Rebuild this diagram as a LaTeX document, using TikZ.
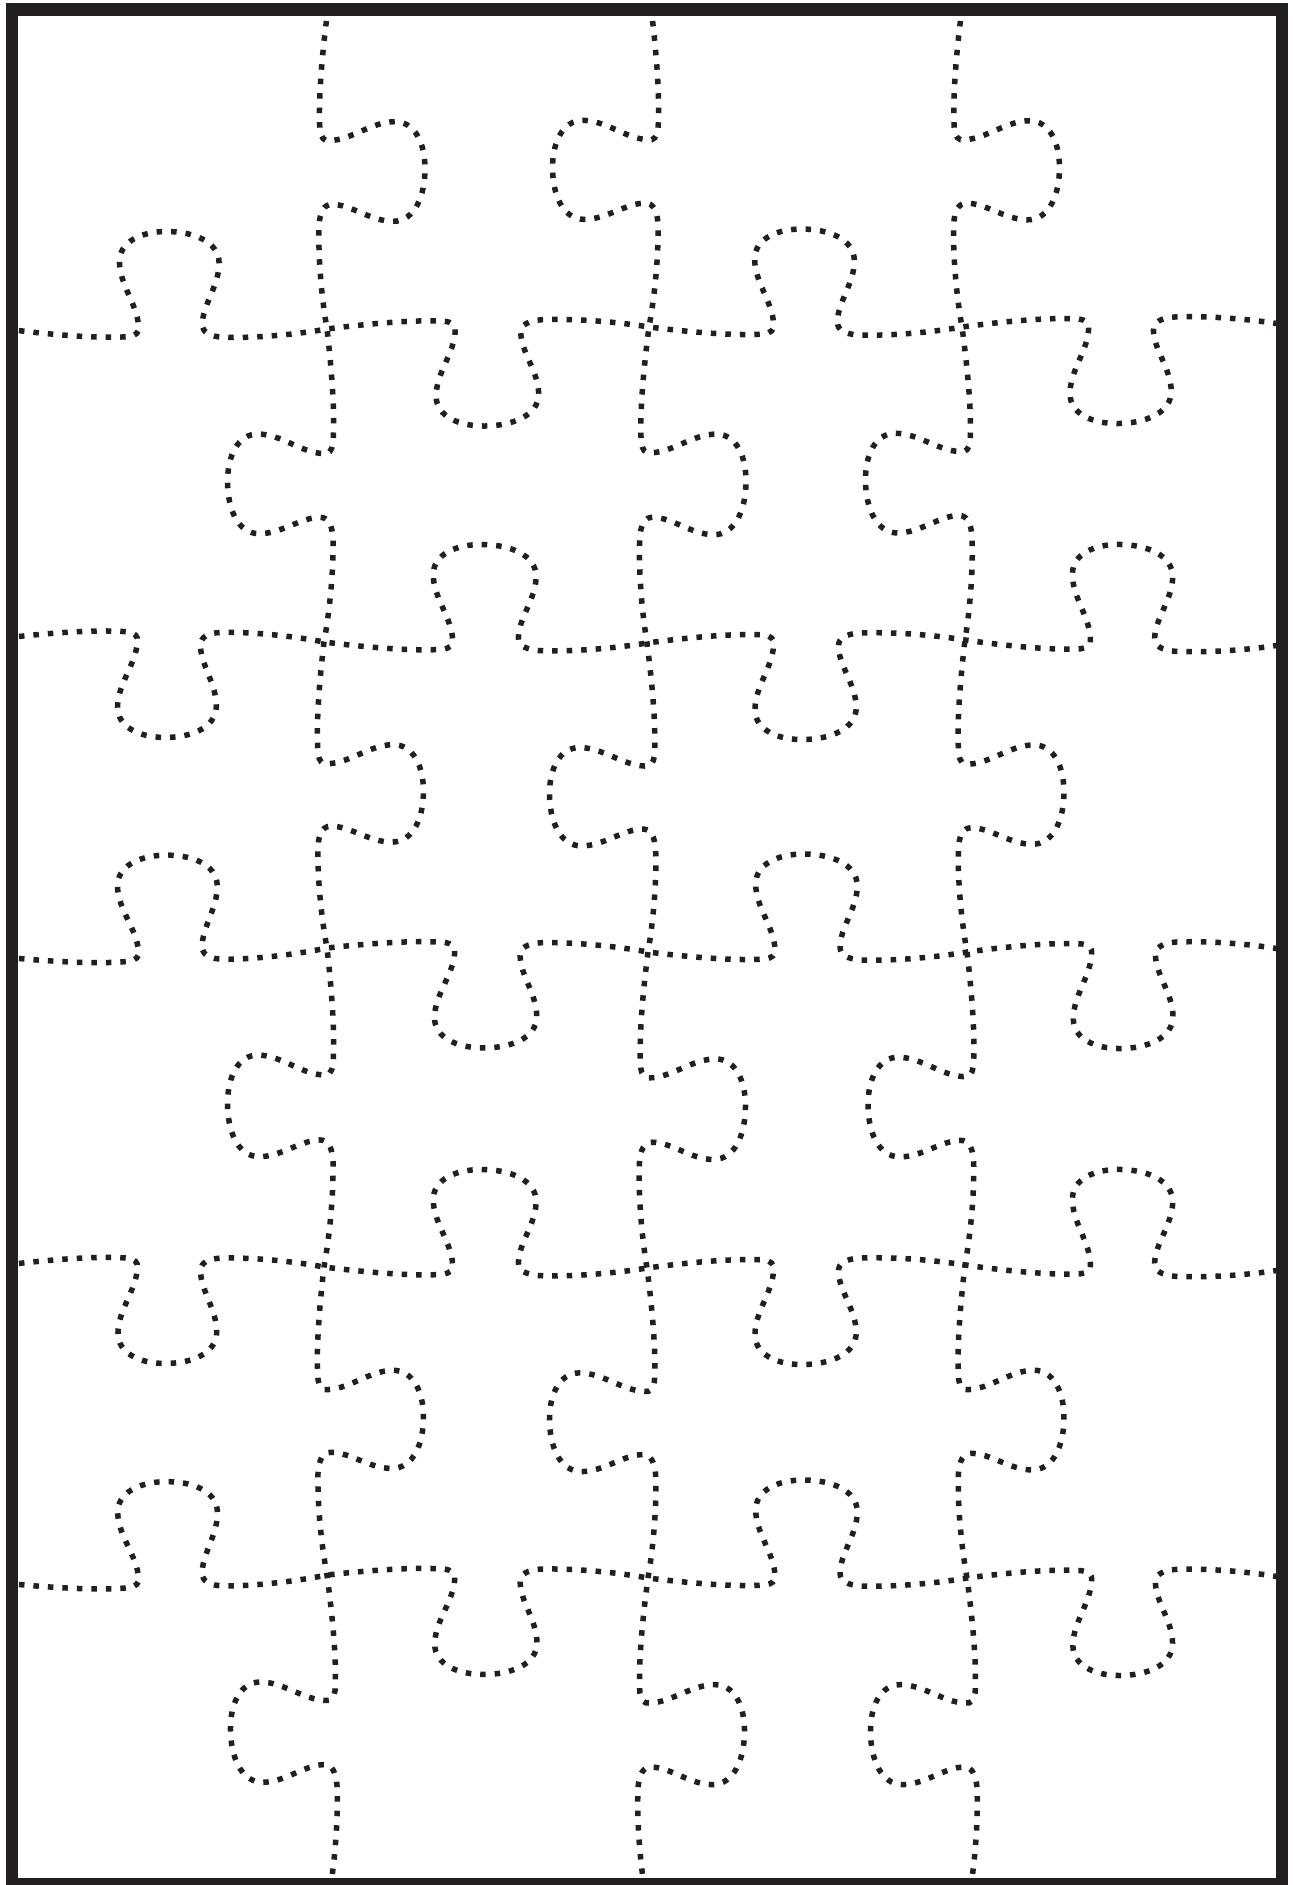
\documentclass[tikz,border=0pt]{standalone}
\definecolor{pzink}{HTML}{231F20}
\newcommand{\pzTab}{.. controls (40,-5) and (85,-9) .. (115,-7) .. controls (122,-6) and (126,-3) .. (125,3) .. controls (124,25) and (106,45) .. (106,68) .. controls (106,88) and (128,98) .. (153,98) .. controls (180,98) and (206,88) .. (206,66) .. controls (206,44) and (189,24) .. (189,5) .. controls (189,-3) and (196,-7) .. (210,-8) .. controls (245,-9) and (285,-5) .. (314,0)}
\tikzset{
  puz/.style={draw=pzink, line width=5.5pt, line cap=butt, dash pattern=on 5.5pt off 9pt, dash phase=9.5pt},
  pseg/.style n args={5}{shift={(#1,-#2)}, rotate={atan2((#2)-(#4),(#3)-(#1))}, xscale={veclen((#3)-(#1),(#4)-(#2))/314}, yscale=#5},
  frame/.style={draw=pzink, line width=12.5pt}
}
\begin{document}
\begin{tikzpicture}[x=1pt,y=1pt]
\useasboundingbox (0,0) rectangle (1293,-1885);
\fill[white] (0,0) rectangle (1293,-1885);
% horizontal cut lines
\draw[puz] {[pseg={14}{330}{327}{329}{1}] (0,0) \pzTab} {[pseg={327}{329}{649}{327}{-1}] \pzTab} {[pseg={649}{327}{962}{327}{1}] \pzTab} {[pseg={962}{327}{1280}{324}{-1}] \pzTab};
\draw[puz] {[pseg={14}{637}{324}{642}{-1}] (0,0) \pzTab} {[pseg={324}{642}{647}{643}{1}] \pzTab} {[pseg={647}{643}{965}{640}{-1}] \pzTab} {[pseg={965}{640}{1280}{645}{1}] \pzTab};
\draw[puz] {[pseg={14}{958}{327}{948}{1}] (0,0) \pzTab} {[pseg={327}{948}{648}{952}{-1}] \pzTab} {[pseg={648}{952}{967}{952}{1}] \pzTab} {[pseg={967}{952}{1280}{949}{-1}] \pzTab};
\draw[puz] {[pseg={14}{1264}{324}{1267}{-1}] (0,0) \pzTab} {[pseg={324}{1267}{647}{1268}{1}] \pzTab} {[pseg={647}{1268}{965}{1265}{-1}] \pzTab} {[pseg={965}{1265}{1280}{1270}{1}] \pzTab};
\draw[puz] {[pseg={14}{1584}{327}{1575}{1}] (0,0) \pzTab} {[pseg={327}{1575}{648}{1578}{-1}] \pzTab} {[pseg={648}{1578}{967}{1578}{1}] \pzTab} {[pseg={967}{1578}{1280}{1577}{-1}] \pzTab};
% vertical cut lines
\draw[puz] {[pseg={327}{16}{327}{329}{1}] (0,0) \pzTab} {[pseg={327}{329}{324}{642}{-1}] \pzTab} {[pseg={324}{642}{327}{948}{1}] \pzTab} {[pseg={327}{948}{324}{1267}{-1}] \pzTab} {[pseg={324}{1267}{327}{1575}{1}] \pzTab} {[pseg={327}{1575}{330}{1890}{-1}] \pzTab};
\draw[puz] {[pseg={652}{16}{649}{327}{-1}] (0,0) \pzTab} {[pseg={649}{327}{647}{643}{1}] \pzTab} {[pseg={647}{643}{648}{952}{-1}] \pzTab} {[pseg={648}{952}{647}{1268}{1}] \pzTab} {[pseg={647}{1268}{648}{1578}{-1}] \pzTab} {[pseg={648}{1578}{645}{1892}{1}] \pzTab};
\draw[puz] {[pseg={961}{16}{962}{327}{1}] (0,0) \pzTab} {[pseg={962}{327}{965}{640}{-1}] \pzTab} {[pseg={965}{640}{967}{952}{1}] \pzTab} {[pseg={967}{952}{965}{1265}{-1}] \pzTab} {[pseg={965}{1265}{967}{1578}{1}] \pzTab} {[pseg={967}{1578}{970}{1892}{-1}] \pzTab};
% frame
\draw[frame] (12,-9.5) rectangle (1282,-1884.5);
\end{tikzpicture}
\end{document}
